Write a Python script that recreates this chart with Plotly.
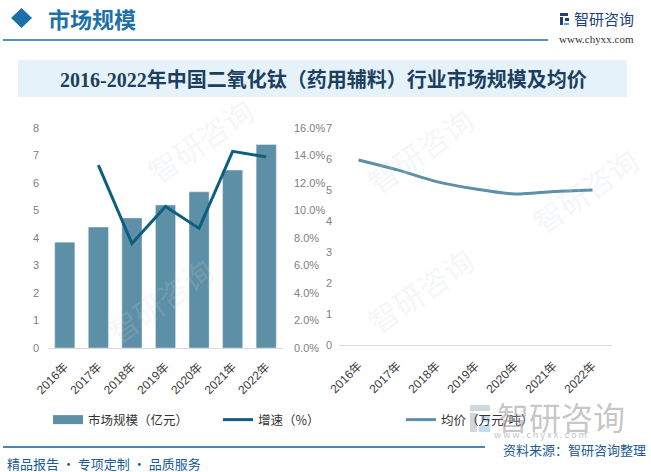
import plotly.graph_objects as go

# ---- data ----
years = ["2016年", "2017年", "2018年", "2019年", "2020年", "2021年", "2022年"]
market_size = [3.85, 4.4, 4.73, 5.2, 5.68, 6.47, 7.4]          # 亿元
growth = [None, 13.3, 7.6, 10.3, 8.7, 14.3, 13.9]              # %
avg_price = [5.97, 5.65, 5.27, 5.03, 4.87, 4.95, 5.0]          # 万元/吨

W, H = 651, 472
def px(x):
    return x / W
def py(y):
    return 1 - y / H

BAR_C = "#5d8fa6"
GROW_C = "#0e5e80"
PRICE_C = "#5b90a8"
BLUE = "#1d6fa8"
FOOT = "#1a5a96"
CJK = "Noto Sans CJK SC"
TICKF = "Liberation Sans, Noto Sans CJK SC"

fig = go.Figure()

fig.add_trace(go.Bar(x=years, y=market_size, name="市场规模（亿元）", marker_color=BAR_C,
                     xaxis="x", yaxis="y", showlegend=False))
# legend swatch for the bars (wide rectangle like the reference)
fig.add_trace(go.Scatter(x=[None], y=[None], name="市场规模（亿元）", mode="lines",
                         line=dict(color=BAR_C, width=9), xaxis="x", yaxis="y",
                         legend="legend", hoverinfo="skip"))
fig.add_trace(go.Scatter(x=years, y=growth, name="增速（%）", mode="lines",
                         line=dict(color=GROW_C, width=3), xaxis="x", yaxis="y2",
                         legend="legend"))
fig.add_trace(go.Scatter(x=years, y=avg_price, name="均价（万元/吨）", mode="lines",
                         line=dict(color=PRICE_C, width=3, shape="spline", smoothing=0.8),
                         xaxis="x2", yaxis="y3", legend="legend2"))

axis_common = dict(showgrid=False, zeroline=False, automargin=False)
tickfont_y = dict(family=TICKF, size=11, color="#808080")
tickfont_x = dict(family=TICKF, size=12, color="#404040")

fig.update_layout(
    width=W, height=H,
    margin=dict(l=0, r=0, t=0, b=0),
    paper_bgcolor="white", plot_bgcolor="rgba(0,0,0,0)",
    bargap=0.4,
    xaxis=dict(domain=[px(48), px(283)], anchor="y", tickangle=-45, tickfont=tickfont_x,
               range=[-0.5, 6.5], ticklabelstandoff=6,
               showline=True, linecolor="#d9d9d9", linewidth=1, ticks="", **axis_common),
    yaxis=dict(domain=[py(348), py(128)], anchor="x", range=[0, 8], dtick=1,
               tickfont=tickfont_y, showline=False, ticks="", ticklabelstandoff=8, **axis_common),
    yaxis2=dict(overlaying="y", side="right", anchor="x", range=[0, 16], dtick=2,
                tickformat=".1f", ticksuffix="%", tickfont=tickfont_y, showline=False,
                ticks="", ticklabelstandoff=10, **axis_common),
    xaxis2=dict(domain=[px(339), px(612)], anchor="y3", tickangle=-45, tickfont=tickfont_x,
                range=[-0.5, 6.5], ticklabelstandoff=8,
                showline=True, linecolor="#d9d9d9", linewidth=1, ticks="", **axis_common),
    yaxis3=dict(domain=[py(345), py(128)], anchor="x2", range=[0, 7], dtick=1,
                tickfont=tickfont_y, showline=False, ticks="", ticklabelstandoff=6, **axis_common),
    legend=dict(orientation="h", x=px(48), y=py(420), xanchor="left", yanchor="middle",
                font=dict(family=CJK, size=12.5, color="#333333"), bgcolor="rgba(0,0,0,0)",
                entrywidth=125, itemwidth=30, tracegroupgap=0),
    legend2=dict(orientation="h", x=px(401), y=py(420), xanchor="left", yanchor="middle",
                 font=dict(family=CJK, size=12.5, color="#333333"), bgcolor="rgba(0,0,0,0)",
                 itemwidth=30),
)

shapes = []
# header diamond
shapes.append(dict(type="path", xref="paper", yref="paper",
                   path=f"M {px(11)} {py(18)} L {px(21.5)} {py(8)} L {px(32)} {py(18)} L {px(21.5)} {py(28)} Z",
                   fillcolor=BLUE, line=dict(width=0)))
# header line
shapes.append(dict(type="line", xref="paper", yref="paper", x0=px(3), x1=px(548), y0=py(40), y1=py(40),
                   line=dict(color=BLUE, width=1.5)))
# title band
shapes.append(dict(type="rect", xref="paper", yref="paper", x0=px(18), x1=px(627), y0=py(97), y1=py(60),
                   fillcolor="#e6f2fa", line=dict(width=0), layer="below"))
# footer line
shapes.append(dict(type="line", xref="paper", yref="paper", x0=px(3), x1=px(485), y0=py(447), y1=py(447),
                   line=dict(color=FOOT, width=1.5)))
# logo icon (top right)
for (x0, y0, x1, y1, c) in [(560, 13, 568, 16, "#1d3f7a"), (560, 17, 563, 25, "#1d3f7a"),
                            (565, 18, 569, 21, "#1d3f7a"), (564, 23, 569, 25, "#4aa3df")]:
    shapes.append(dict(type="rect", xref="paper", yref="paper", x0=px(x0), x1=px(x1), y0=py(y1), y1=py(y0),
                       fillcolor=c, line=dict(width=0)))
# watermark logo icon (bottom right)
for (x0, y0, x1, y1, c) in [(470, 405, 490, 411, "rgba(170,180,195,0.55)"),
                            (470, 413, 477, 432, "rgba(170,180,195,0.55)"),
                            (481, 415, 490, 422, "rgba(120,180,225,0.45)"),
                            (479, 425, 490, 432, "rgba(120,180,225,0.45)")]:
    shapes.append(dict(type="rect", xref="paper", yref="paper", x0=px(x0), x1=px(x1), y0=py(y1), y1=py(y0),
                       fillcolor=c, line=dict(width=0)))
fig.update_layout(shapes=shapes)

ann = []
def text(x, y, s, size, color, family=CJK, xanchor="left", bold=False, angle=0, yanchor="middle"):
    ann.append(dict(xref="paper", yref="paper", x=px(x), y=py(y), text=(f"<b>{s}</b>" if bold else s),
                    showarrow=False, xanchor=xanchor, yanchor=yanchor, textangle=angle,
                    font=dict(family=family, size=size, color=color)))

# faint watermarks
for (x, y) in [(200, 140), (160, 300), (420, 150), (420, 290), (585, 190)]:
    text(x, y, "智研咨询", 30, "rgba(200,210,222,0.2)", xanchor="center", angle=-35)

text(46, 18, "市场规模", 22, BLUE, bold=True)
text(572, 18, "智研咨询", 15, "#1d3f7a")
text(596, 39, "www.chyxx.com", 11, "#333333", family="Liberation Serif", xanchor="center")
text(323, 79, "2016-2022年中国二氧化钛（药用辅料）行业市场规模及均价", 20, "#1c3f60",
     family="Liberation Serif, Noto Sans CJK SC", xanchor="center", bold=True)
# bottom right watermark
text(561, 416, "智研咨询", 32, "rgba(150,150,150,0.55)", xanchor="center")
text(540, 434, "w w w . c h y x x . c o m", 9, "rgba(150,150,150,0.6)", xanchor="center")
text(648, 449, "资料来源：智研咨询整理", 13, FOOT, xanchor="right")
text(5, 463, "精品报告 · 专项定制 · 品质服务", 13, FOOT)
fig.update_layout(annotations=ann)

fig.write_html("out.html", config={"displayModeBar": False},
               post_script="document.body.style.margin='0px';document.body.style.overflow='hidden';")
